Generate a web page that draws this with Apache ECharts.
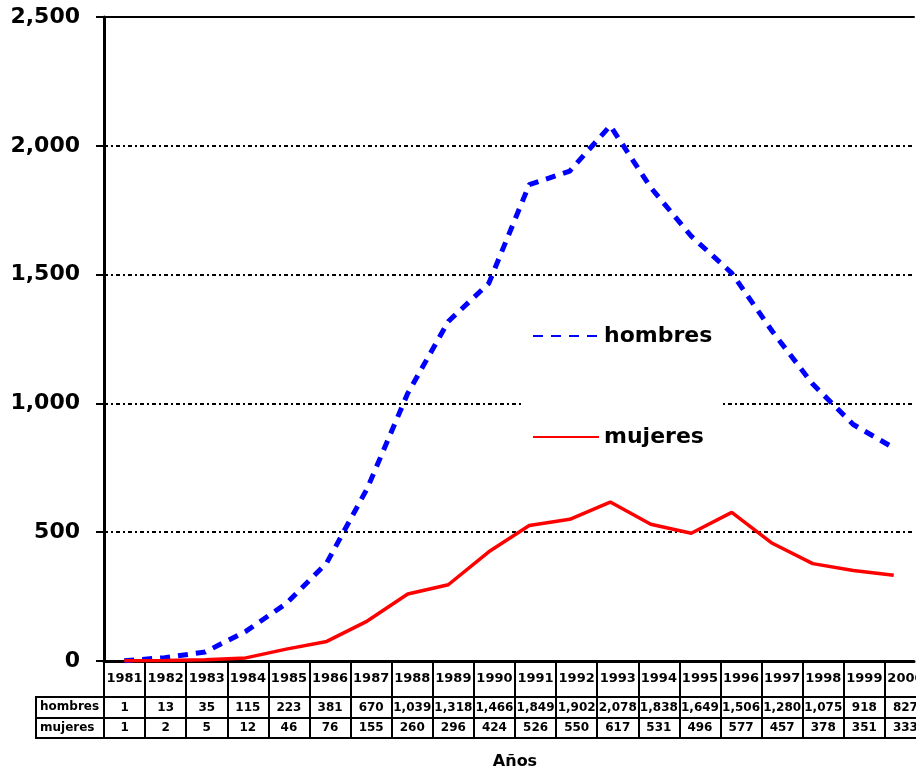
<!DOCTYPE html>
<html>
<head>
<meta charset="utf-8">
<script src="https://cdn.jsdelivr.net/npm/echarts@6/dist/echarts.min.js"></script>
<style>
  html, body { margin: 0; padding: 0; background: #fff; }
  #chart { width: 916px; height: 771px; }
</style>
</head>
<body>
<div id="chart"></div>
<script>
const years = ['1981', '1982', '1983', '1984', '1985', '1986', '1987', '1988', '1989', '1990',
  '1991', '1992', '1993', '1994', '1995', '1996', '1997', '1998', '1999', '2000']
const hombres = [1, 13, 35, 115, 223, 381, 670, 1039, 1318, 1466,
  1849, 1902, 2078, 1838, 1649, 1506, 1280, 1075, 918, 827]
const mujeres = [1, 2, 5, 12, 46, 76, 155, 260, 296, 424,
  526, 550, 617, 531, 496, 577, 457, 378, 351, 333]
const yTicks = [0, 500, 1000, 1500, 2000, 2500]

const FONT = 'DejaVu Sans'
const fmt = (v) => v.toLocaleString('en-US')

const chart = echarts.init(document.getElementById('chart'))

// table rows below the plot, drawn as extra category axes
const tableAxis = (offset, tickLen, labels, showLine) => ({
  type: 'category',
  gridIndex: 1,
  position: 'bottom',
  offset: offset,
  data: years,
  boundaryGap: true,
  axisLine: { show: showLine, lineStyle: { color: '#000', width: 2 } },
  axisTick: { show: tickLen > 0, length: tickLen, interval: 0, lineStyle: { color: '#000', width: 2 } },
  axisLabel: labels
    ? {
        show: true,
        interval: 0,
        margin: labels.margin,
        verticalAlign: 'middle',
        color: '#000',
        fontFamily: FONT,
        fontWeight: 'bold',
        fontSize: labels.size,
        formatter: (v, i) => labels.values[i],
      }
    : { show: false },
})

const option = {
  backgroundColor: '#fff',
  animation: false,
  grid: [
    { left: 104, right: 2, top: 17, bottom: 110, outerBoundsMode: 'none' },
    { left: 104, width: 822, top: 660, height: 1, outerBoundsMode: 'none' },
  ],
  legend: {
    orient: 'vertical',
    left: 522,
    top: 313,
    backgroundColor: '#fff',
    padding: [12, 8, 12, 10],
    itemWidth: 66,
    itemHeight: 20,
    itemGap: 79,
    itemStyle: { opacity: 0 },
    textStyle: { fontFamily: FONT, fontWeight: 'bold', fontSize: 22, color: '#000' },
    data: ['hombres', 'mujeres'],
  },
  xAxis: [
    {
      type: 'category',
      gridIndex: 0,
      data: years,
      boundaryGap: true,
      axisLine: { lineStyle: { color: '#000', width: 3 } },
      axisTick: { show: false },
      axisLabel: { show: false },
    },
    {
      type: 'category',
      gridIndex: 0,
      position: 'top',
      data: years,
      axisLine: { lineStyle: { color: '#000', width: 2 } },
      axisTick: { show: false },
      axisLabel: { show: false },
    },
    tableAxis(0, 36, { values: years, size: 13, margin: 18 }, false),
    tableAxis(36, 21, { values: hombres.map(fmt), size: 12, margin: 11 }, true),
    tableAxis(57, 20, { values: mujeres.map(fmt), size: 12, margin: 10 }, true),
    Object.assign(tableAxis(77, 0, null, true), {
      name: 'Años',
      nameLocation: 'middle',
      nameGap: 16,
      nameTextStyle: { fontFamily: FONT, fontWeight: 'bold', fontSize: 16, color: '#000', verticalAlign: 'top' },
    }),
  ],
  yAxis: [
    {
      type: 'value',
      gridIndex: 0,
      min: yTicks[0],
      max: yTicks[yTicks.length - 1],
      interval: 500,
      axisLine: { show: true, lineStyle: { color: '#000', width: 3 } },
      axisTick: { show: true, length: 8, lineStyle: { color: '#000', width: 2 } },
      axisLabel: {
        margin: 24,
        color: '#000',
        fontFamily: FONT,
        fontWeight: 'bold',
        fontSize: 22,
        formatter: (v) => fmt(v),
      },
      splitLine: { show: true, lineStyle: { color: '#000', width: 2, type: [4, 3, 2, 3] } },
    },
    { type: 'value', gridIndex: 1, min: 0, max: 1, show: false },
  ],
  series: [
    {
      name: 'hombres',
      type: 'line',
      xAxisIndex: 0,
      yAxisIndex: 0,
      data: hombres,
      symbol: 'none',
      color: '#0000ff',
      lineStyle: { color: '#0000ff', width: 5, type: [10, 8] },
      z: 3,
    },
    {
      name: 'mujeres',
      type: 'line',
      xAxisIndex: 0,
      yAxisIndex: 0,
      data: mujeres,
      symbol: 'none',
      color: '#ff0000',
      lineStyle: { color: '#ff0000', width: 3.5 },
      z: 3,
    },
  ],
  graphic: [
    // row header cells of the data table
    {
      type: 'rect',
      shape: { x: 36, y: 697, width: 68, height: 41 },
      style: { fill: 'none', stroke: '#000', lineWidth: 2 },
    },
    {
      type: 'line',
      shape: { x1: 36, y1: 718, x2: 104, y2: 718 },
      style: { stroke: '#000', lineWidth: 2 },
    },
    {
      type: 'text',
      left: 40,
      top: 701,
      style: { text: 'hombres', fontFamily: FONT, fontWeight: 'bold', fontSize: 12, fill: '#000' },
    },
    {
      type: 'text',
      left: 40,
      top: 722,
      style: { text: 'mujeres', fontFamily: FONT, fontWeight: 'bold', fontSize: 12, fill: '#000' },
    },
  ],
}

chart.setOption(option)
</script>
</body>
</html>
